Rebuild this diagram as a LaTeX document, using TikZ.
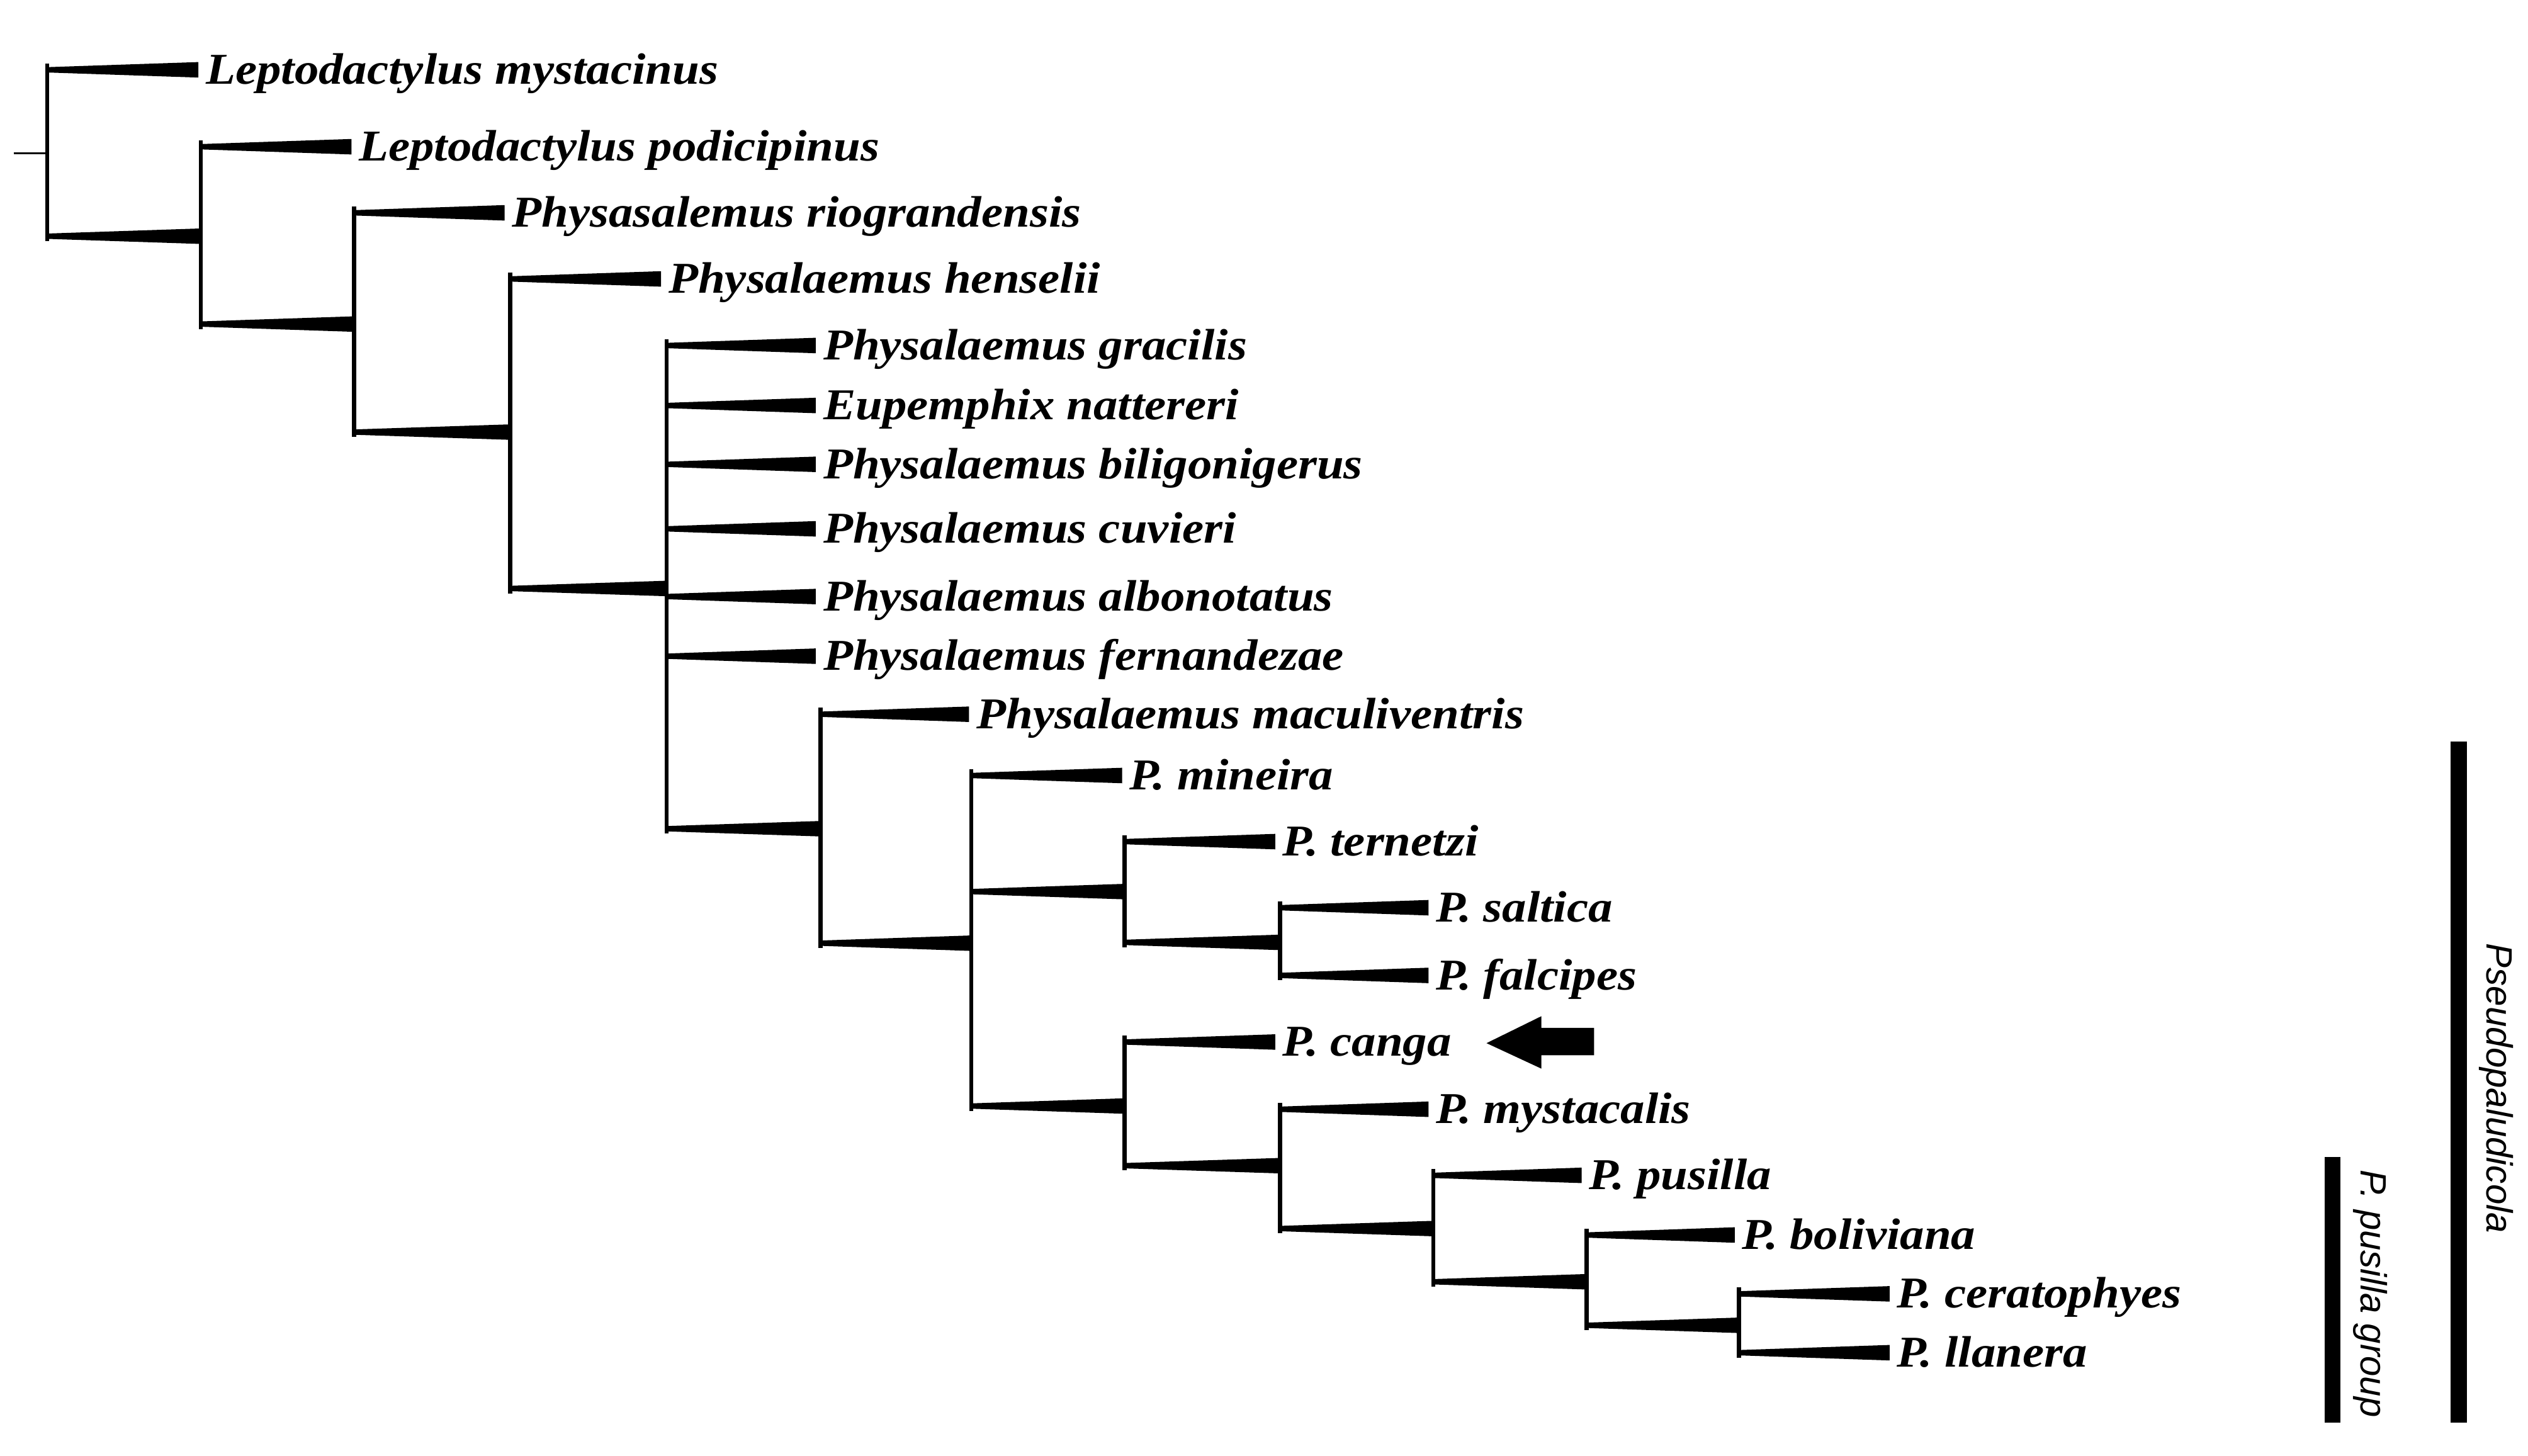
\documentclass[tikz,border=0pt]{standalone}
\usepackage{fontspec}
\setmainfont{Liberation Serif}
\setsansfont{Liberation Sans}
\newfontfamily\taxfont{Liberation Serif}[FakeStretch=1.1]
\usetikzlibrary{calc}
\tikzset{
  vline/.style={line width=2.6pt},
  stubline/.style={line width=1pt},
  taxon/.style={anchor=base west, inner sep=0pt, font=\taxfont\fontsize{27.3}{33}\selectfont\bfseries\itshape},
  cladelab/.style={anchor=base west, inner sep=0pt, rotate=-90, font=\sffamily\itshape},
  cladebar/.style={fill=black},
}
\newcommand\brw[2]{\fill ($(#1 |- #2)+(0,-1.65)$) -- ($(#2)+(0,-4.8)$) -- ($(#2)+(0,4.8)$) -- ($(#1 |- #2)+(0,1.65)$) -- cycle;}
\newcommand\vl[3]{\draw[vline] ($(#1 |- #2)+(0,-4)$) -- ($(#1 |- #3)+(0,3)$);}
\newcommand\lab[2]{\node[taxon] (t#1) at ($(l#1)+(4.5,8.8)$) {#2};}
\begin{document}
\begin{tikzpicture}[x=1pt,y=-1pt]
\useasboundingbox (0,0) rectangle (1568,903);
% internal nodes
\coordinate (stub) at (8.5,95);
\coordinate (r) at (29.3,95);
\coordinate (n1) at (124.5,146.5);
\coordinate (n2) at (219.5,201);
\coordinate (n3) at (316.5,268);
\coordinate (n4) at (413.5,365);
\coordinate (n5) at (509,514);
\coordinate (n6) at (602.5,585);
\coordinate (n7) at (697.5,553);
\coordinate (n8) at (794,584.5);
\coordinate (n9) at (697.5,686);
\coordinate (n10) at (794,723);
\coordinate (n11) at (889,762);
\coordinate (n12) at (984,795);
\coordinate (n13) at (1078.5,822);
% leaves
\coordinate (l1) at (123,43.3);
\coordinate (l2) at (218,91);
\coordinate (l3) at (313,132);
\coordinate (l4) at (410,173);
\coordinate (l5) at (506,214.3);
\coordinate (l6) at (506,251.5);
\coordinate (l7) at (506,288);
\coordinate (l8) at (506,328);
\coordinate (l9) at (506,370);
\coordinate (l10) at (506,407);
\coordinate (l11) at (601,443);
\coordinate (l12) at (696,481);
\coordinate (l13) at (791,522);
\coordinate (l14) at (886,563);
\coordinate (l15) at (886,605);
\coordinate (l16) at (791,646.3);
\coordinate (l17) at (886,688);
\coordinate (l18) at (981,729);
\coordinate (l19) at (1076,766);
\coordinate (l20) at (1172,802.5);
\coordinate (l21) at (1172,839);
% root stub
\draw[stubline] (stub) -- (r);
% verticals
\vl{r}{l1}{n1}
\vl{n1}{l2}{n2}
\vl{n2}{l3}{n3}
\vl{n3}{l4}{n4}
\vl{n4}{l5}{n5}
\vl{n5}{l11}{n6}
\vl{n6}{l12}{n9}
\vl{n7}{l13}{n8}
\vl{n8}{l14}{l15}
\vl{n9}{l16}{n10}
\vl{n10}{l17}{n11}
\vl{n11}{l18}{n12}
\vl{n12}{l19}{n13}
\vl{n13}{l20}{l21}
% branches
\brw{r}{l1}\brw{r}{n1}
\brw{n1}{l2}\brw{n1}{n2}
\brw{n2}{l3}\brw{n2}{n3}
\brw{n3}{l4}\brw{n3}{n4}
\brw{n4}{l5}\brw{n4}{l6}\brw{n4}{l7}\brw{n4}{l8}\brw{n4}{l9}\brw{n4}{l10}\brw{n4}{n5}
\brw{n5}{l11}\brw{n5}{n6}
\brw{n6}{l12}\brw{n6}{n7}\brw{n6}{n9}
\brw{n7}{l13}\brw{n7}{n8}
\brw{n8}{l14}\brw{n8}{l15}
\brw{n9}{l16}\brw{n9}{n10}
\brw{n10}{l17}\brw{n10}{n11}
\brw{n11}{l18}\brw{n11}{n12}
\brw{n12}{l19}\brw{n12}{n13}
\brw{n13}{l20}\brw{n13}{l21}
% labels
\lab{1}{Leptodactylus mystacinus}
\lab{2}{Leptodactylus podicipinus}
\lab{3}{Physasalemus riograndensis}
\lab{4}{Physalaemus henselii}
\lab{5}{Physalaemus gracilis}
\lab{6}{Eupemphix nattereri}
\lab{7}{Physalaemus biligonigerus}
\lab{8}{Physalaemus cuvieri}
\lab{9}{Physalaemus albonotatus}
\lab{10}{Physalaemus fernandezae}
\lab{11}{Physalaemus maculiventris}
\lab{12}{P. mineira}
\lab{13}{P. ternetzi}
\lab{14}{P. saltica}
\lab{15}{P. falcipes}
\lab{16}{P. canga}
\lab{17}{P. mystacalis}
\lab{18}{P. pusilla}
\lab{19}{P. boliviana}
\lab{20}{P. ceratophyes}
\lab{21}{P. llanera}
% arrow pointing at P. canga
\fill (922,647) -- (956,630.3) -- (956,637.5) -- (988.7,637.5) -- (988.7,654.5) -- (956,654.5) -- (956,662.8) -- cycle;
% clade bars
\fill[cladebar] (1520,460) rectangle (1530,882.5);
\fill[cladebar] (1441.7,717.6) rectangle (1451.7,882.5);
\node[cladelab, font=\sffamily\itshape\fontsize{22.75}{28}\selectfont] (pseudo) at (1542.4,585) {Pseudopaludicola};
\node[cladelab, font=\sffamily\itshape\fontsize{22.7}{27}\selectfont] (pgroup) at (1464.3,725.4) {P. pusilla group};
\end{tikzpicture}
\end{document}
